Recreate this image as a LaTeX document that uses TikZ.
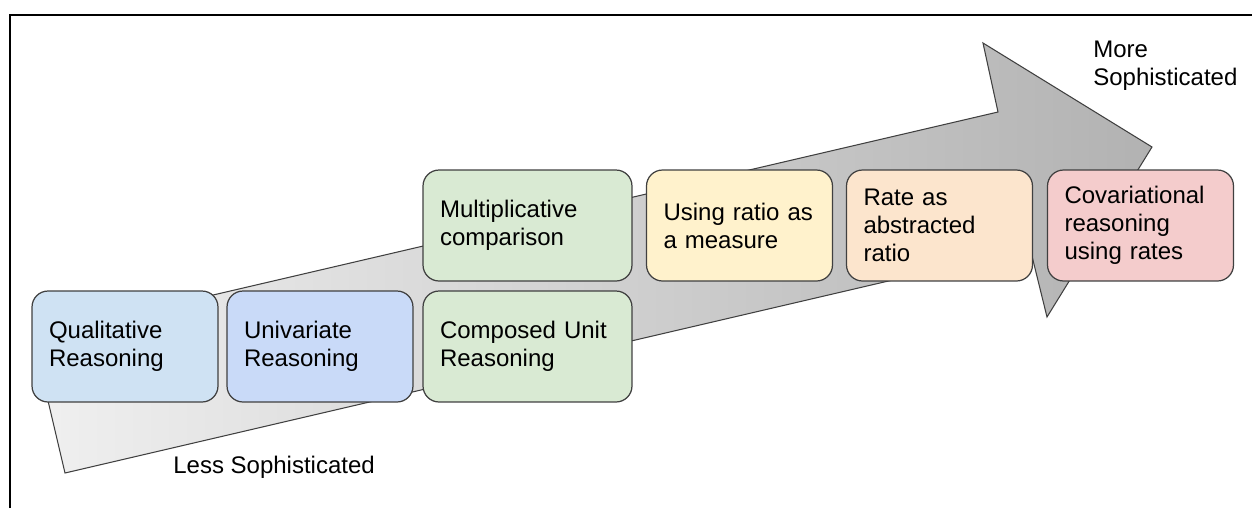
\documentclass[tikz,border=0pt]{standalone}
\usepackage{fontspec}
\setmainfont{Liberation Sans}
\definecolor{qualblue}{HTML}{CFE2F3}
\definecolor{univblue}{HTML}{C9DAF8}
\definecolor{compgreen}{HTML}{D9EAD3}
\definecolor{ratioyellow}{HTML}{FFF2CC}
\definecolor{rateorange}{HTML}{FCE5CD}
\definecolor{covred}{HTML}{F4CCCC}
\definecolor{edgegray}{HTML}{404040}
\definecolor{taillight}{HTML}{F0F0F0}
\definecolor{headdark}{HTML}{B2B2B2}
\tikzset{
	txt/.style={font=\fontsize{13.66}{15.9}\selectfont},
	box/.style={txt, draw=edgegray, line width=0.7pt, rounded corners=0.32cm,
		align=left, text width=3.04cm, inner xsep=0.34cm, minimum height=2.22cm},
	widebox/.style={box, text width=3.5cm},
	arrowbody/.style={draw=edgegray, line width=0.6pt, left color=taillight, right color=headdark}
}
\begin{document}
\begin{tikzpicture}[x=0.02cm, y=-0.02cm]
	\useasboundingbox(0, 0) rectangle (1252, 508);
	\draw[line width=1.7pt](10, 508) -- (10, 15) -- (1252, 15);

	\draw[arrowbody](33, 337) -- (998, 112) -- (983, 43) -- (1152, 147)
		-- (1047, 317) -- (1030, 248) -- (65, 473) -- cycle;

	\node[box, fill=qualblue](qual) at(125, 346.5){Qualitative\\Reasoning};
	\node[box, fill=univblue](univ) at(320, 346.5){Univariate\\Reasoning};
	\node[widebox, fill=compgreen](comp) at(527.5, 346.5){Composed Unit\\Reasoning};
	\node[widebox, fill=compgreen](mult) at(527.5, 225.5){Multiplicative\\comparison};
	\node[box, fill=ratioyellow](ratio) at(739.5, 225.5){Using ratio as\\a measure};
	\node[box, fill=rateorange](rate) at(939.5, 225.5){Rate as\\abstracted\\ratio};
	\node[box, fill=covred](cov) at(1140.5, 225.5){Covariational\\reasoning\\using rates};

	\node[txt, anchor=base west, inner sep=0](less) at(173, 473){Less Sophisticated};
	\node[txt, anchor=north west, inner sep=0, align=left](more) at(1093, 41){More\\Sophisticated};
\end{tikzpicture}
\end{document}
